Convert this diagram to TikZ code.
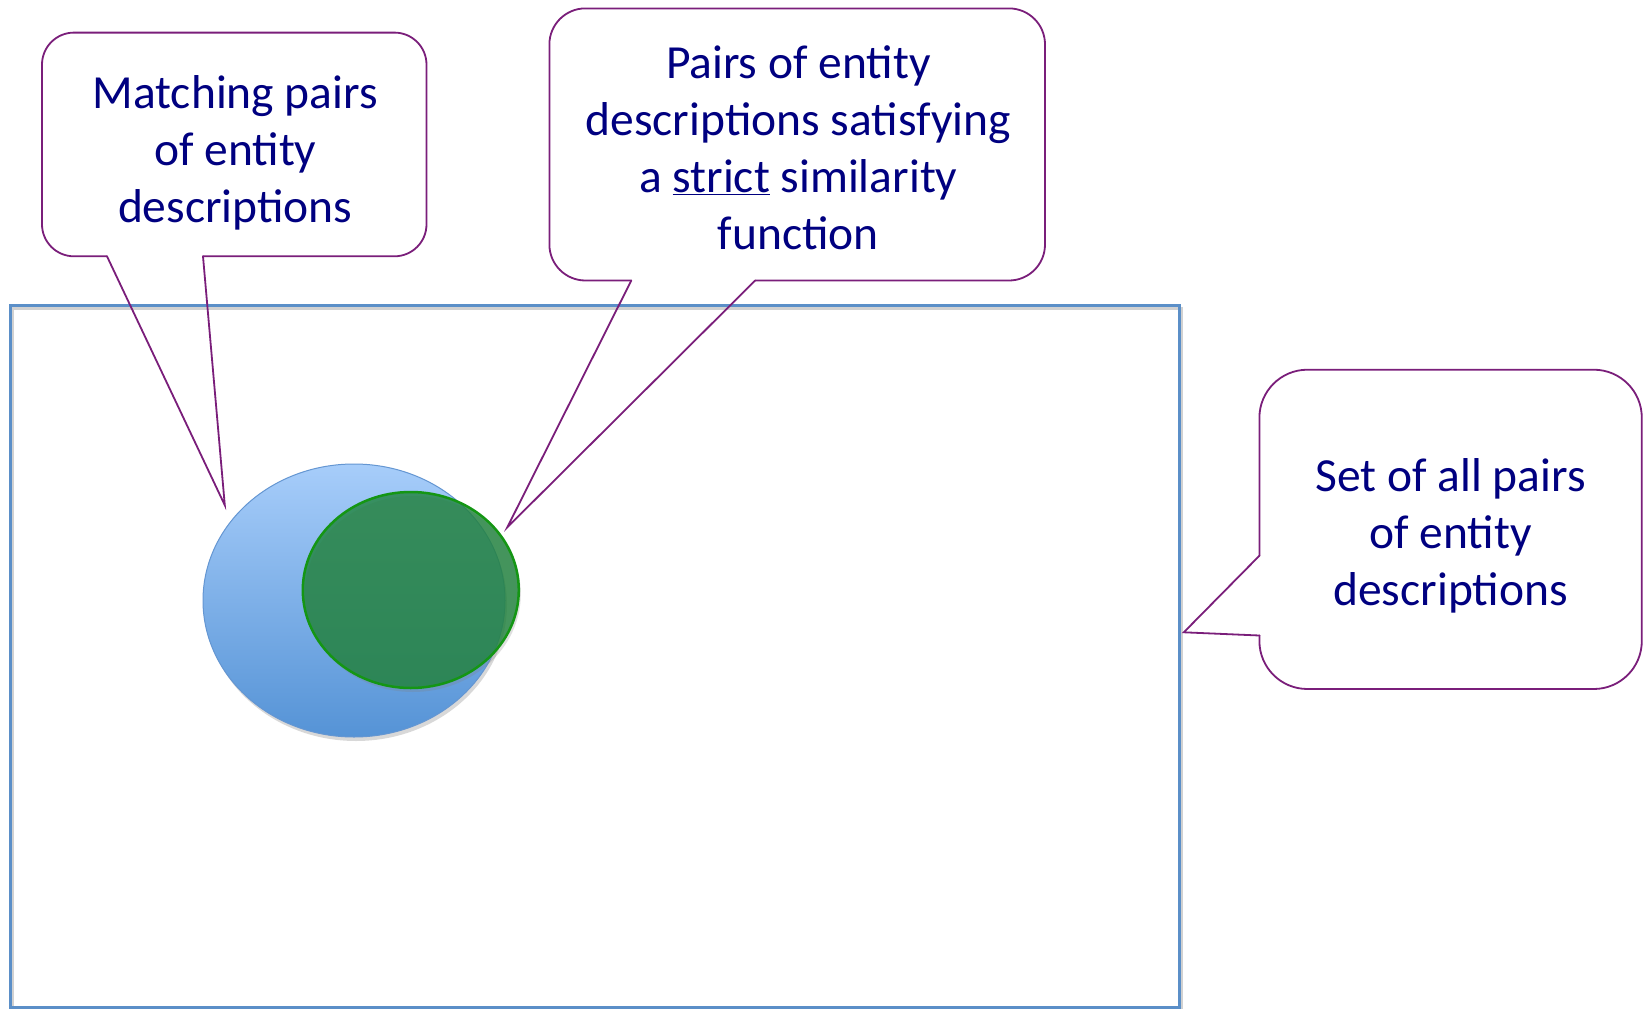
\documentclass[tikz,border=0pt]{standalone}
\usepackage{fontspec}
\setmainfont{Carlito}
\usetikzlibrary{shapes.geometric,shadows}
\definecolor{navytext}{RGB}{0,0,128}
\definecolor{calloutcol}{RGB}{122,30,122}
\definecolor{setblue}{RGB}{91,143,200}
\definecolor{ellblue}{RGB}{100,150,210}
\definecolor{ltblue}{RGB}{167,205,250}
\definecolor{dkblue}{RGB}{85,147,214}
\definecolor{grfill}{RGB}{30,130,60}
\definecolor{grline}{RGB}{20,150,20}
\begin{document}
\begin{tikzpicture}[x=1pt,y=-1pt,
  setbox/.style={draw=setblue, line width=3pt},
  setshadow/.style={draw=black, draw opacity=0.18, line width=3pt},
  blueell/.style={ellipse, inner sep=0pt, draw=ellblue, line width=1pt, top color=ltblue, bottom color=dkblue, drop shadow={opacity=0.3, shadow xshift=2pt, shadow yshift=-4pt}},
  greenell/.style={ellipse, inner sep=0pt, draw=grline, line width=2.5pt, fill=grfill, fill opacity=0.8, drop shadow={opacity=0.25, shadow xshift=2pt, shadow yshift=-4pt}},
  callbody/.style={draw=calloutcol, line width=1.8pt, line cap=round, line join=round},
  calltip/.style={draw=calloutcol, line width=1.8pt, line cap=round, line join=miter},
  calltext/.style={align=center, text=navytext, inner sep=0pt, font=\fontsize{47.5}{57}\selectfont}]
\useasboundingbox (0,0) rectangle (1647,1009);
\fill[white] (0,0) rectangle (1647,1009);

% set of all pairs
\draw[setshadow] (12.5,308.7) rectangle (1181.6,1010);
\draw[setbox] (10.5,305.7) rectangle (1179.6,1007);

% ellipses
\node[blueell, minimum width=302pt, minimum height=273pt] (matching) at (354,600.5) {};
\node[greenell, minimum width=216pt, minimum height=196pt] (strict) at (410.8,590) {};

% callout 1
\coordinate (c1a) at (107,256.3);
\coordinate (c1b) at (203,256.3);
\coordinate (c1tip) at (224.8,505.2);
\draw[callbody, rounded corners=32pt] (c1a) -- (42,256.3) -- (42,32.6) -- (426.5,32.6) -- (426.5,256.3) -- (c1b);
\draw[calltip] (c1a) -- (c1tip) -- (c1b);
\node[calltext] (t1) at (235.3,152.4) {Matching pairs\\of entity\\descriptions};

% callout 2
\coordinate (c2a) at (631.3,280.5);
\coordinate (c2b) at (755.2,280.5);
\coordinate (c2tip) at (507.3,527.3);
\draw[callbody, rounded corners=36pt] (c2a) -- (549.4,280.5) -- (549.4,8.4) -- (1045,8.4) -- (1045,280.5) -- (c2b);
\draw[calltip] (c2a) -- (c2tip) -- (c2b);
\node[calltext] (t2) at (798.3,148.1) {Pairs of entity\\descriptions satisfying\\a \underline{strict} similarity\\function};

% callout 3
\coordinate (c3a) at (1259.4,555.7);
\coordinate (c3b) at (1259.4,635.5);
\coordinate (c3tip) at (1183.8,632.3);
\draw[callbody, rounded corners=48pt] (c3a) -- (1259.4,369.7) -- (1641.8,369.7) -- (1641.8,689) -- (1259.4,689) -- (c3b);
\draw[calltip] (c3a) -- (c3tip) -- (c3b);
\node[calltext] (t3) at (1450.6,536.2) {Set of all pairs\\of entity\\descriptions};
\end{tikzpicture}
\end{document}
